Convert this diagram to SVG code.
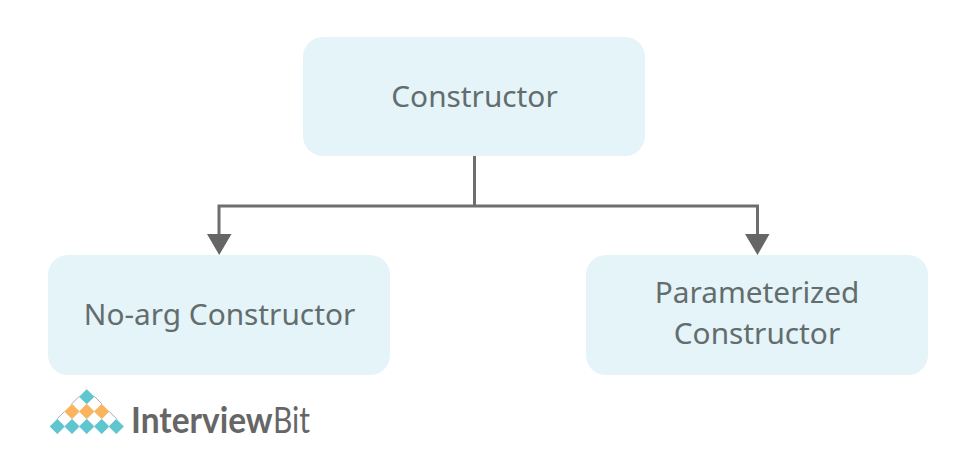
<svg xmlns="http://www.w3.org/2000/svg" width="968" height="458" viewBox="0 0 968 458">
<style>
.box{fill:#e5f4f8}
.t{font-family:"Noto Sans","Open Sans",sans-serif;font-size:29.800px;fill:#636d6d;text-anchor:middle}
.c{fill:none;stroke:#6e6e6e;stroke-width:3}
.a{fill:#666}
.w{fill:#fff;stroke:#a5aeae;stroke-width:1}
.b{fill:#5fc6d0;stroke:#fff;stroke-width:.4}
.o{fill:#f9b45c;stroke:#fff;stroke-width:.4}
.l{font-family:Lato,"Noto Sans",sans-serif;fill:#666}
</style>
<defs>
<path id="d" d="M0-7.800 7.800 0 0 7.800-7.800 0Z"/>
</defs>
<rect width="968" height="458" fill="#fff"/>
<g id="connectors">
<path class="c" d="M474.500 156V206M219 235V206H757.500V235"/>
<path class="a" d="M207 234H231.500L219.200 255ZM745 234H769.500L757.500 255Z"/>
</g>
<g id="node-constructor"><rect class="box" x="303" y="37" width="342" height="119" rx="20"/><text class="t" x="474.500" y="107">Constructor</text></g>
<g id="node-noarg"><rect class="box" x="48" y="255" width="342" height="120" rx="20"/><text class="t" x="219.500" y="325">No-arg Constructor</text></g>
<g id="node-param"><rect class="box" x="586" y="255" width="342" height="120" rx="20"/><text class="t" x="757" y="303">Parameterized</text><text class="t" x="757" y="344">Constructor</text></g>
<g id="logo">
<use href="#d" class="w" x="79.300" y="404"/><use href="#d" class="w" x="94.200" y="404"/>
<use href="#d" class="w" x="64.700" y="419"/><use href="#d" class="w" x="79.300" y="419"/><use href="#d" class="w" x="94.200" y="419"/><use href="#d" class="w" x="109" y="419"/>
<use href="#d" class="b" x="86.700" y="396.700"/>
<use href="#d" class="o" x="72" y="411.500"/><use href="#d" class="o" x="86.700" y="411.500"/><use href="#d" class="o" x="101.700" y="411.500"/>
<use href="#d" class="b" x="57.300" y="426.500"/><use href="#d" class="b" x="72" y="426.500"/><use href="#d" class="b" x="86.700" y="426.500"/><use href="#d" class="b" x="101.700" y="426.500"/><use href="#d" class="b" x="116.300" y="426.500"/>
<text class="l" font-size="33.500" transform="translate(131 433) scale(1 1.075)" font-weight="700">Interview</text>
<text class="l" font-size="30" transform="translate(273 433) scale(1 1.200)" font-weight="400">Bit</text>
</g>
</svg>
